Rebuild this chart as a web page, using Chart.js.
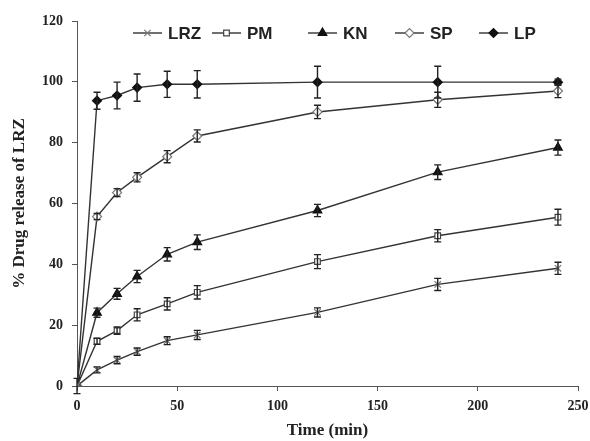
<!DOCTYPE html>
<html>
<head>
<meta charset="utf-8">
<script src="https://cdn.jsdelivr.net/npm/chart.js@4"></script>
<style>
  body { margin: 0; background: #fff; }
  #wrap { width: 590px; height: 441px; position: relative; }
</style>
</head>
<body>
<div id="wrap"><canvas id="myChart"></canvas></div>
<script>
// Sampling times (min)
const times = [0, 10, 20, 30, 45, 60, 120, 180, 240];

// % drug release per formulation, with error bars
const lrz = [0, 5.3, 8.5, 11.3, 14.9, 16.8, 24.2, 33.4, 38.7];
const lrzErr = [0, 1, 1.2, 1.2, 1.3, 1.5, 1.5, 2, 2];
const pm = [0, 14.7, 18.2, 23.4, 27.0, 30.8, 40.9, 49.4, 55.5];
const pmErr = [0, 1, 1.2, 2, 2, 2.2, 2.3, 2, 2.6];
const kn = [0, 24.1, 30.3, 36.0, 43.3, 47.3, 57.7, 70.3, 78.4];
const knErr = [0, 1.5, 1.8, 2, 2.2, 2.4, 2, 2.4, 2.5];
const sp = [0, 55.7, 63.6, 68.6, 75.4, 82.2, 90.1, 94.1, 97.0];
const spErr = [0, 1, 1.3, 1.5, 2, 2, 2.2, 2.5, 2.2];
const lp = [0, 93.8, 95.5, 98.1, 99.2, 99.2, 99.9, 99.9, 99.9];
const lpErr = [2.5, 2.8, 4.4, 4.5, 4.3, 4.5, 5.2, 5.2, 1];

const seriesNames = ['LRZ', 'PM', 'KN', 'SP', 'LP'];

// x positions where each legend entry starts
const legendX = [133, 212, 308, 395, 479];

function pts(arr) {
  return times.map((t, i) => ({ x: t, y: arr[i] }));
}

// Draw error bars using the chart's scales
const errorBars = {
  id: 'errorBars',
  afterDatasetsDraw(chart) {
    const ctx = chart.ctx;
    const xs = chart.scales.x, ys = chart.scales.y;
    ctx.save();
    ctx.strokeStyle = '#222';
    ctx.lineWidth = 1.4;
    chart.data.datasets.forEach(ds => {
      ds.data.forEach((p, i) => {
        const e = ds.errors[i];
        if (!e) return;
        const x = xs.getPixelForValue(p.x);
        const y1 = ys.getPixelForValue(p.y - e);
        const y2 = ys.getPixelForValue(p.y + e);
        ctx.beginPath();
        ctx.moveTo(x, y1); ctx.lineTo(x, y2);
        ctx.moveTo(x - 3.5, y1); ctx.lineTo(x + 3.5, y1);
        ctx.moveTo(x - 3.5, y2); ctx.lineTo(x + 3.5, y2);
        ctx.stroke();
      });
    });
    ctx.restore();
  }
};

// Legend drawn inside the plot area: line + marker + bold label
const insideLegend = {
  id: 'insideLegend',
  afterDraw(chart) {
    const ctx = chart.ctx;
    const y = 33;
    ctx.save();
    chart.data.datasets.forEach((ds, i) => {
      const x0 = legendX[i];
      ctx.strokeStyle = '#333';
      ctx.lineWidth = 1.4;
      ctx.beginPath();
      ctx.moveTo(x0, y); ctx.lineTo(x0 + 29, y);
      ctx.stroke();
      ctx.fillStyle = ds.pointBackgroundColor;
      ctx.strokeStyle = ds.pointBorderColor;
      ctx.lineWidth = ds.pointBorderWidth;
      Chart.helpers.drawPoint(ctx, {
        pointStyle: ds.pointStyle,
        radius: ds.pointRadius,
        rotation: 0,
        borderWidth: ds.pointBorderWidth
      }, x0 + 14.5, y);
      ctx.fillStyle = '#222';
      ctx.font = 'bold 17px "Liberation Sans", Arial, sans-serif';
      ctx.textBaseline = 'middle';
      ctx.fillText(ds.label, x0 + 35, y + 1);
    });
    ctx.restore();
  }
};

function makeSet(i, arr, err, style, fill, border, radius) {
  return {
    label: seriesNames[i],
    data: pts(arr),
    errors: err,
    borderColor: '#333',
    borderWidth: 1.4,
    pointStyle: style,
    pointRadius: radius,
    pointHoverRadius: radius,
    pointBackgroundColor: fill,
    pointBorderColor: border,
    pointBorderWidth: 1.2,
    tension: 0
  };
}

const serif = '"Liberation Serif", "Times New Roman", serif';
const tickFont = { family: serif, size: 14, weight: 'bold' };
const titleFont = { family: serif, size: 17, weight: 'bold' };

new Chart(document.getElementById('myChart'), {
  type: 'line',
  data: {
    datasets: [
      makeSet(0, lrz, lrzErr, 'crossRot', '#777', '#777', 4.5),
      makeSet(1, pm, pmErr, 'rect', '#fff', '#444', 4),
      makeSet(2, kn, knErr, 'triangle', '#111', '#111', 5),
      makeSet(3, sp, spErr, 'rectRot', '#fff', '#777', 4.5),
      makeSet(4, lp, lpErr, 'rectRot', '#111', '#111', 4.5)
    ]
  },
  options: {
    responsive: true,
    maintainAspectRatio: false,
    animation: false,
    events: [],
    layout: { padding: { top: 21, right: 12, left: 0, bottom: 0 } },
    plugins: {
      legend: { display: false },
      tooltip: { enabled: false }
    },
    scales: {
      x: {
        type: 'linear',
        min: 0, max: 250,
        ticks: { stepSize: 50, font: tickFont, color: '#222', padding: 7 },
        grid: { drawOnChartArea: false, drawTicks: true, tickLength: 5, color: '#555' },
        border: { color: '#555', width: 1 },
        title: {
          display: true, text: 'Time (min)', color: '#222', font: titleFont,
          padding: { top: 0, bottom: 0 }
        },
        afterFit(scale) {
          scale.height = 55;
          scale.paddingLeft = 0;
          scale.paddingRight = 0;
        }
      },
      y: {
        min: 0, max: 120,
        ticks: { stepSize: 20, font: tickFont, color: '#222', padding: 9 },
        grid: { drawOnChartArea: false, drawTicks: true, tickLength: 5, color: '#555' },
        border: { color: '#555', width: 1 },
        title: {
          display: true, text: '% Drug release of LRZ', color: '#222', font: titleFont,
          padding: { top: 9, bottom: 0 }
        },
        afterFit(scale) {
          scale.width = 77;
          scale.paddingTop = 0;
          scale.paddingBottom = 0;
        }
      }
    }
  },
  plugins: [errorBars, insideLegend]
});
</script>
</body>
</html>
